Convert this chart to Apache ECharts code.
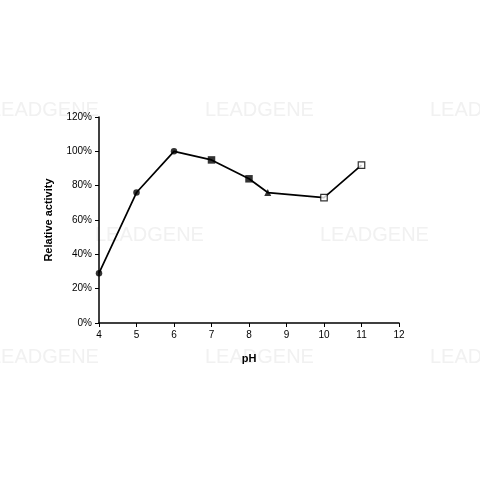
<!DOCTYPE html>
<html>
<head>
<meta charset="utf-8">
<script src="https://cdn.jsdelivr.net/npm/echarts@6/dist/echarts.min.js"></script>
<style>html,body{margin:0;padding:0;background:#fff}#c{width:480px;height:480px}</style>
</head>
<body>
<div id="c"></div>
<script>
var phValues = [4, 5, 6, 7, 8, 8.5, 10, 11];
var activityValues = [29, 76, 100, 95, 84, 76, 73, 92];
var xTicks = [4, 5, 6, 7, 8, 9, 10, 11, 12];
var yTicks = [0, 20, 40, 60, 80, 100, 120];

var pts = phValues.map(function (p, i) { return [p, activityValues[i]]; });
function pick(a, b) { return pts.slice(a, b); }

var chart = echarts.init(document.getElementById('c'));
var font = 'Liberation Sans, Arial, sans-serif';
var wm = [];
[[-10,110],[205,110],[430,110],[95,235],[320,235],[-10,357],[205,357],[430,357]].forEach(function (p) {
  wm.push({ type: 'text', left: p[0], top: p[1] - 10, z: -1, silent: true,
    style: { text: 'LEADGENE', fill: '#f1f1f1', font: '20px ' + font } });
});
chart.setOption({
  animation: false,
  backgroundColor: '#fff',
  graphic: wm,
  grid: { left: 99, right: 81, top: 117, bottom: 157 },
  xAxis: {
    type: 'value', min: xTicks[0], max: xTicks[xTicks.length - 1], interval: 1,
    name: 'pH', nameLocation: 'middle', nameGap: 30,
    nameTextStyle: { fontFamily: font, fontSize: 11, fontWeight: 'bold', color: '#000' },
    axisLine: { lineStyle: { color: '#000', width: 1.5 } },
    axisTick: { show: true, length: 4, lineStyle: { color: '#000', width: 1 } },
    axisLabel: { fontFamily: font, fontSize: 10, color: '#000', margin: 7 },
    splitLine: { show: false }
  },
  yAxis: {
    type: 'value', min: yTicks[0], max: yTicks[yTicks.length - 1], interval: 20,
    name: 'Relative activity', nameLocation: 'middle', nameGap: 45, nameRotate: 90,
    nameTextStyle: { fontFamily: font, fontSize: 11, fontWeight: 'bold', color: '#000' },
    axisLine: { show: true, lineStyle: { color: '#000', width: 1.5 } },
    axisTick: { show: true, length: 4, lineStyle: { color: '#000', width: 1 } },
    axisLabel: { fontFamily: font, fontSize: 10, color: '#000', margin: 7, formatter: '{value}%' },
    splitLine: { show: false }
  },
  series: [
    { type: 'line', data: pts, showSymbol: false, symbol: 'none',
      lineStyle: { color: '#000', width: 1.7 }, z: 2 },
    { type: 'scatter', data: pick(0, 3), symbol: 'circle', symbolSize: 6.5,
      itemStyle: { color: '#000' }, z: 3 },
    { type: 'scatter', data: pick(3, 5), symbol: 'rect', symbolSize: 7.5,
      itemStyle: { color: '#000' }, z: 3 },
    { type: 'scatter', data: pick(5, 6), symbol: 'triangle', symbolSize: 7,
      itemStyle: { color: '#000' }, z: 3 },
    { type: 'scatter', data: pick(6, 8), symbol: 'rect', symbolSize: 6.5,
      itemStyle: { color: '#fff', borderColor: '#000', borderWidth: 1.2 }, z: 3 }
  ]
});
</script>
</body>
</html>
